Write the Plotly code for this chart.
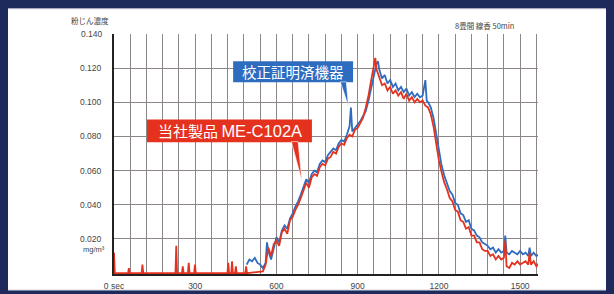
import plotly.graph_objects as go

# ---- data -------------------------------------------------------------
red_t = [0, 3, 52, 55, 58, 102, 105, 108, 227, 230, 233, 251, 254, 257,
         273, 276, 279, 296, 299, 302, 419, 422, 425, 433, 436, 439,
         447, 450, 453, 485, 488, 491, 550,
         560, 570, 580, 590, 600, 610, 620, 630, 640, 650, 660, 670, 680,
         690, 700, 710, 720, 730, 740, 750, 760, 770, 780, 790, 800, 810,
         820, 830, 840, 850, 860, 870, 880, 890, 900, 910, 920, 930, 940,
         950, 960, 965, 970, 980, 990, 1000, 1010, 1020, 1030, 1040, 1050,
         1060, 1070, 1080, 1090, 1100, 1110, 1120, 1130, 1140, 1150, 1160,
         1170, 1180, 1190, 1200, 1210, 1220, 1230, 1240, 1250, 1260, 1270,
         1280, 1290, 1300, 1310, 1320, 1330, 1340, 1350, 1360, 1370, 1380,
         1390, 1400, 1410, 1420, 1430, 1440, 1445, 1450, 1460, 1470, 1480,
         1490, 1500, 1510, 1520, 1530, 1535, 1540, 1550, 1560, 1570, 1580]
red_v = [0.012, 0, 0, 0.003, 0, 0, 0.005, 0, 0, 0.016, 0, 0, 0.004, 0,
         0, 0.006, 0, 0, 0.005, 0, 0, 0.006, 0, 0, 0.007, 0,
         0, 0.004, 0, 0, 0.004, 0, 0.001,
         0.005, 0.015, 0.010, 0.017, 0.019, 0.016, 0.024, 0.026, 0.023, 0.031, 0.033, 0.037, 0.040,
         0.044, 0.048, 0.053, 0.050, 0.056, 0.058, 0.057, 0.062, 0.064, 0.063, 0.067, 0.068, 0.071,
         0.070, 0.074, 0.076, 0.075, 0.079, 0.081, 0.080, 0.084, 0.085, 0.088, 0.091, 0.097, 0.104,
         0.113, 0.121, 0.126, 0.119, 0.115, 0.110, 0.111, 0.107, 0.109, 0.105, 0.107, 0.104,
         0.106, 0.102, 0.105, 0.101, 0.103, 0.100, 0.102, 0.100, 0.101, 0.098, 0.097,
         0.093, 0.086, 0.076, 0.066, 0.059, 0.053, 0.049, 0.044, 0.042, 0.037, 0.036,
         0.031, 0.030, 0.026, 0.027, 0.022, 0.022, 0.018, 0.018, 0.014, 0.013, 0.013,
         0.010, 0.011, 0.008, 0.010, 0.008, 0.009, 0.019, 0.004, 0.003, 0.006, 0.005,
         0.007, 0.005, 0.006, 0.007, 0.005, 0.012, 0.005, 0.007, 0.004, 0.006, 0.005]

blue_t = [490, 500, 510, 520, 530, 540, 550, 560, 565, 570, 580, 590, 600,
          610, 620, 630, 640, 650, 660, 670, 680, 690, 700, 710, 720, 730,
          740, 750, 760, 770, 780, 790, 800, 810, 820, 830, 840, 850, 860,
          870, 875, 880, 890, 900, 910, 920, 930, 940, 950, 960, 970, 975,
          980, 990, 1000, 1010, 1020, 1030, 1040, 1050, 1060, 1070, 1080,
          1090, 1100, 1110, 1120, 1130, 1140, 1150, 1155, 1160, 1170, 1180,
          1190, 1200, 1210, 1220, 1230, 1240, 1250, 1260, 1270, 1280, 1290,
          1300, 1310, 1320, 1330, 1340, 1350, 1360, 1370, 1380, 1390, 1400,
          1410, 1420, 1430, 1440, 1445, 1450, 1460, 1470, 1480, 1490, 1500,
          1510, 1520, 1530, 1535, 1540, 1550, 1560, 1570, 1580]
blue_v = [0.005, 0.008, 0.007, 0.009, 0.006, 0.005, 0.003, 0.006, 0.018, 0.013, 0.008, 0.014, 0.021,
          0.018, 0.025, 0.028, 0.026, 0.032, 0.035, 0.039, 0.042, 0.046, 0.050, 0.055, 0.053, 0.058,
          0.060, 0.059, 0.064, 0.066, 0.065, 0.069, 0.071, 0.073, 0.072, 0.076, 0.078, 0.077, 0.081,
          0.086, 0.097, 0.083, 0.085, 0.087, 0.089, 0.092, 0.095, 0.101, 0.108, 0.115, 0.123, 0.124,
          0.119, 0.114, 0.116, 0.111, 0.113, 0.109, 0.111, 0.107, 0.109, 0.106, 0.108,
          0.104, 0.106, 0.103, 0.105, 0.103, 0.104, 0.113, 0.101, 0.100, 0.097, 0.091,
          0.081, 0.071, 0.063, 0.057, 0.053, 0.048, 0.046, 0.041, 0.040, 0.035, 0.034,
          0.030, 0.031, 0.026, 0.025, 0.022, 0.021, 0.018, 0.017, 0.016, 0.014, 0.015,
          0.012, 0.014, 0.012, 0.013, 0.022, 0.012, 0.011, 0.013, 0.012, 0.011, 0.013,
          0.011, 0.012, 0.010, 0.015, 0.010, 0.012, 0.010, 0.011, 0.009]

x_ticks = [0, 300, 600, 900, 1200, 1500]
x_labels = ["0 sec", "300", "600", "900", "1200", "1500"]
y_ticks = [0.02, 0.04, 0.06, 0.08, 0.10, 0.12]
y_labels = ["0.020", "0.040", "0.060", "0.080", "0.100", "0.120"]
y_top_label = "0.140"
y_title = "粉じん濃度"
unit_label = "mg/m³"
cond_label = "8畳間 線香 50min"
blue_name = "校正証明済機器"
red_name_jp = "当社製品"
red_name_model = "ME-C102A"

RED = "#e5321f"
BLUE = "#2e6cbf"
NAVY = "#1f2a5c"
GRID = "#8c8686"
LBL = dict(family="Liberation Sans Narrow, Liberation Sans, Arial", size=8.5, color="#444444")
JP = "Noto Sans CJK JP"

fig = go.Figure()
fig.add_trace(go.Scatter(x=blue_t, y=blue_v, mode="lines",
                         line=dict(color=BLUE, width=1.8), name=blue_name))
fig.add_trace(go.Scatter(x=red_t, y=red_v, mode="lines",
                         line=dict(color=RED, width=1.8), name=red_name_jp + " " + red_name_model))

shapes = [
    # white panel
    dict(type="rect", xref="paper", yref="paper", x0=-0.252, x1=1.162, y0=-0.067, y1=1.105,
         fillcolor="white", line=dict(color="#c9c9d9", width=1), layer="below"),
    # blue callout box + tail
    dict(type="rect", xref="x", yref="y", x0=440, x1=883, y0=0.1117, y1=0.124,
         fillcolor=BLUE, line=dict(width=0)),
    dict(type="path", xref="x", yref="y", path="M 836,0.1120 L 858,0.1120 L 866,0.0975 Z",
         fillcolor=BLUE, line=dict(color="white", width=0.6)),
    # red callout box + tail
    dict(type="rect", xref="x", yref="y", x0=122, x1=731, y0=0.0766, y1=0.0900,
         fillcolor=RED, line=dict(width=0)),
    dict(type="path", xref="x", yref="y", path="M 655,0.0770 L 680,0.0770 L 694,0.0540 Z",
         fillcolor=RED, line=dict(color="white", width=0.6)),
]

annotations = [
    dict(text=blue_name, x=661, y=0.1179, xref="x", yref="y", showarrow=False,
         font=dict(family=JP, size=14.5, color="white")),
    dict(text=red_name_jp + " <span style='font-family:Liberation Sans, Arial;font-size:16.5px'>"
         + red_name_model + "</span>",
         x=427, y=0.0833, xref="x", yref="y", showarrow=False,
         font=dict(family=JP, size=15, color="white")),
    dict(text=y_top_label, x=0, y=0.14, xref="paper", yref="y", xanchor="right",
         xshift=-9, showarrow=False, font=LBL),
    dict(text=y_title, x=0, y=1.0, xref="paper", yref="paper", xanchor="right",
         yanchor="bottom", xshift=-3, yshift=6, showarrow=False,
         font=dict(family=JP, size=7.5, color="#444444")),
    dict(text=unit_label, x=0, y=0.02, xref="paper", yref="y", xanchor="right",
         yanchor="top", xshift=-7, yshift=-4, showarrow=False,
         font=dict(family="Liberation Sans Narrow, Liberation Sans, Arial", size=7.5, color="#444444")),
    dict(text=cond_label, x=0.948, y=1.0, xref="paper", yref="paper",
         yanchor="bottom", yshift=1, showarrow=False,
         font=dict(family=JP, size=7.5, color="#444444")),
]

# The page body has an 8 px default margin, so the figure is sized to fill
# the remaining 606x286 of the window and the page background is made navy.
fig.update_layout(
    width=606, height=286,
    margin=dict(l=106, r=76, t=26, b=20, autoexpand=False),
    paper_bgcolor=NAVY, plot_bgcolor="white",
    showlegend=False,
    shapes=shapes, annotations=annotations,
    xaxis=dict(range=[0, 1566], tickmode="array", tickvals=x_ticks, ticktext=x_labels,
               showgrid=True, gridcolor=GRID, gridwidth=1.3,
               minor=dict(dtick=60, tick0=0, showgrid=True, gridcolor=GRID, gridwidth=1.3),
               showline=True, linecolor="#222222", linewidth=2, automargin=False,
               ticks="", tickfont=LBL, zeroline=False, ticklabelstandoff=3),
    yaxis=dict(range=[-0.0005, 0.14], tickmode="array", tickvals=y_ticks, ticktext=y_labels,
               showgrid=True, gridcolor=GRID, gridwidth=1.3,
               showline=True, linecolor="#222222", linewidth=2, automargin=False,
               ticks="", tickfont=LBL, zeroline=False, ticklabelstandoff=9),
)

fig.write_html("out.html", post_script="document.body.style.background='" + NAVY + "';")
